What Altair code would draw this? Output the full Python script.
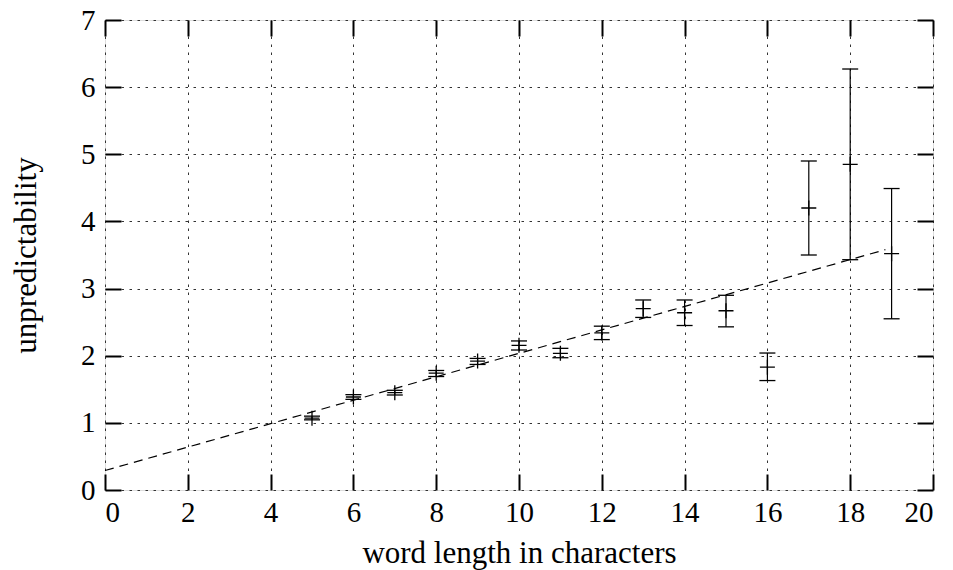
import altair as alt
import pandas as pd

# word length (characters)
word_len = [5, 6, 7, 8, 9, 10, 11, 12, 13, 14, 15, 16, 17, 18, 19]
# mean unpredictability and error bar limits
mean_val = [1.07, 1.385, 1.45, 1.74, 1.92, 2.155, 2.035, 2.34, 2.70, 2.64, 2.67, 1.83, 4.20, 4.85, 3.52]
low_val = [1.045, 1.35, 1.415, 1.69, 1.87, 2.085, 1.97, 2.24, 2.57, 2.45, 2.43, 1.63, 3.50, 3.43, 2.55]
high_val = [1.10, 1.42, 1.485, 1.78, 1.96, 2.22, 2.11, 2.44, 2.83, 2.83, 2.90, 2.04, 4.90, 6.27, 4.49]
# fitted line end points
fit_x = [0, 18.85]
fit_y = [0.29, 3.58]
x_ticks = [0, 2, 4, 6, 8, 10, 12, 14, 16, 18, 20]
y_ticks = [0, 1, 2, 3, 4, 5, 6, 7]

W, H = 828, 470
FONT = "'Liberation Serif', 'DejaVu Serif', serif"

df = pd.DataFrame({"len": word_len, "mean": mean_val, "lo": low_val, "hi": high_val})
fit = pd.DataFrame({"len": fit_x, "val": fit_y})

xs = alt.Scale(domain=[0, 20], nice=False, zero=False)
ys = alt.Scale(domain=[0, 7], nice=False, zero=False)

grid_common = dict(grid=True, gridColor="#333", gridDash=[2.5, 5.5], gridWidth=1,
                   domain=False, ticks=False, tickSize=0,
                   labelFont=FONT, labelFontSize=29, labelColor="black",
                   titleFont=FONT, titleFontSize=31, titleFontWeight="normal", titleColor="black")

x_main = alt.Axis(values=x_ticks, orient="bottom", title="word length in characters",
                  labelPadding=8, labelBaseline="top", titleBaseline="alphabetic",
                  titleY=72, titleX=W / 2, titleAlign="center", **grid_common)
y_main = alt.Axis(values=y_ticks, orient="left", title="unpredictability",
                  labelPadding=10, titleAngle=270, titleBaseline="alphabetic",
                  titleX=-70, titleY=H / 2, titleAlign="center", **grid_common)

tick_common = dict(grid=False, domain=False, labels=False, ticks=True, tickSize=16,
                   tickWidth=2, tickColor="black", title=None)

x_in_bottom = alt.Axis(values=x_ticks, orient="top", offset=-H, **tick_common)
x_in_top = alt.Axis(values=x_ticks, orient="bottom", offset=-H, **tick_common)
y_in_left = alt.Axis(values=y_ticks, orient="right", offset=-W, **tick_common)
y_in_right = alt.Axis(values=y_ticks, orient="left", offset=-W, **tick_common)

bars = alt.Chart(df).mark_rule(color="black", strokeWidth=1.2).encode(
    x=alt.X("len:Q", scale=xs, axis=x_main),
    y=alt.Y("lo:Q", scale=ys, axis=y_main),
    y2="hi:Q",
)

plus = alt.Chart(df).mark_point(shape="M-1,0L1,0M0,-1L0,1", filled=False, color="black",
                                 strokeWidth=1.3, size=225, opacity=1).encode(
    x=alt.X("len:Q", scale=xs, axis=x_in_bottom),
    y=alt.Y("mean:Q", scale=ys, axis=y_in_left),
)

cap_lo = alt.Chart(df).mark_point(shape="M-1,0L1,0", filled=False, color="black",
                                   strokeWidth=1.3, size=256, opacity=1).encode(
    x=alt.X("len:Q", scale=xs, axis=x_in_top),
    y=alt.Y("lo:Q", scale=ys, axis=y_in_right),
)

cap_hi = alt.Chart(df).mark_point(shape="M-1,0L1,0", filled=False, color="black",
                                   strokeWidth=1.3, size=256, opacity=1).encode(
    x=alt.X("len:Q", scale=xs, axis=None),
    y=alt.Y("hi:Q", scale=ys, axis=None),
)

line = alt.Chart(fit).mark_line(color="black", strokeWidth=1.2, strokeDash=[9, 6]).encode(
    x=alt.X("len:Q", scale=xs, axis=None),
    y=alt.Y("val:Q", scale=ys, axis=None),
)

chart = alt.layer(bars, plus, cap_lo, cap_hi, line).resolve_scale(
    x="independent", y="independent"
).resolve_axis(
    x="independent", y="independent"
).properties(
    width=W, height=H,
    autosize=alt.AutoSizeParams(type="none"),
    padding={"left": 97, "top": 12, "right": 12, "bottom": 80},
).configure_view(
    stroke="black", strokeWidth=2.5
).configure(background="white")

chart.save("out.html", embed_options={"renderer": "svg", "actions": False})
